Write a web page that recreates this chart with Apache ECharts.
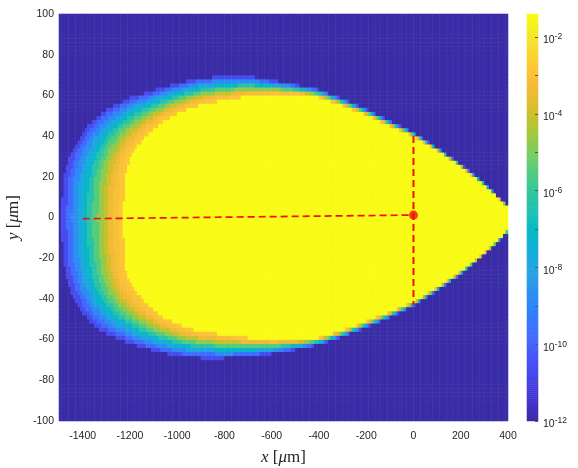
<!DOCTYPE html>
<html><head><meta charset="utf-8">
<script src="https://cdn.jsdelivr.net/npm/echarts@6/dist/echarts.min.js"></script>
<style>html,body{margin:0;padding:0;background:#fff}#c{width:578px;height:468px}</style>
</head><body><div id="c"></div>
<script>
// ---- shape of the field (x, y in µm) ----
// outer edge of the non-zero region
const outerX   = [-1490, -1480, -1450, -1400, -1350, -1300, -1250, -1200, -1100, -1000, -900, -800, -700, -600, -500, -400, -300, -200, -100, 0, 100, 200, 300, 350, 400];
const outerTop = [0, 20, 31, 42, 48.5, 53, 56, 59, 62.5, 66, 68.5, 69.5, 69.5, 67.5, 65.5, 63, 58.5, 53.5, 47.5, 42, 34.5, 26.5, 17, 11.5, 6];
const outerBot = [0, -22, -36, -47, -53, -57, -59.5, -62, -65.5, -68, -69, -69, -68.5, -67, -65, -62.5, -58.5, -54, -49, -43.5, -36, -28, -18.5, -13, -7];
// edge of the saturated (yellow) core
const coreX   = [-1225, -1215, -1200, -1170, -1115, -1050, -975, -900, -834, -700, -600, -500, -400, -300, -200, -100, 0, 100, 200, 300, 350, 400];
const coreTop = [8, 22, 28, 35, 42, 48, 52.5, 55.5, 57, 59.5, 60.5, 60.5, 59, 55, 50.5, 45, 40, 33, 25, 16, 10.5, 5];
const coreBot = [-9, -25, -31, -37, -44, -49.5, -53.5, -56, -57, -59, -60, -60, -59, -55.5, -51, -46.5, -41.5, -34.5, -26.5, -17.5, -12, -6];
// log10 of the value in the fringe bands, from the core outward
const fringeLevels = [-2.9, -3.1, -3.4, -4.0, -4.7, -5.5, -6.3, -7.1, -7.9, -8.8, -9.7, -10.7];
const coreLevel = -1.4;
const backgroundLevel = -12;

// ---- markers ----
const pathX = [-1400, 0];
const pathY = [-0.6, 1.2];
const cutX = [0, 0];
const cutY = [40, -43];
const probeX = [0];
const probeY = [1.2];

// ---- axes ----
const xTicks = [-1400, -1200, -1000, -800, -600, -400, -200, 0, 200, 400];
const cbTicks = [-12, -10, -8, -6, -4, -2];
const cbMinorTicks = [-12, -11, -10, -9, -8, -7, -6, -5, -4, -3, -2];

const parula = ['#392CA6','#4332CB','#4741E5','#4852F4','#4563FD','#3875FE','#2E87F7','#2796EB','#20A5E3','#12B1D6','#02BAC3','#24C1AE','#37C897','#57CC7A','#80CC59','#ABC739','#D1BF27','#EFBA36','#FEC338','#F9D62D','#F5E924','#F9FB15'];

function interp(xs, ys, x) {
  if (x <= xs[0]) return ys[0];
  for (let i = 1; i < xs.length; i++) {
    if (x <= xs[i]) {
      const t = (x - xs[i-1]) / (xs[i] - xs[i-1]);
      return ys[i-1] + t * (ys[i] - ys[i-1]);
    }
  }
  return ys[ys.length-1];
}
const X0 = -1500;
function table(xs, ys) { const t = []; for (let i = 0; i <= 1900; i++) t.push(interp(xs, ys, X0 + i)); return t; }
const oT = table(outerX, outerTop), oB = table(outerX, outerBot);
const cT = table(coreX, coreTop), cB = table(coreX, coreBot);
function inside(xs, tt, tb, x, y) {
  if (x < xs[0] || x > xs[xs.length-1]) return false;
  const i = Math.round(x - X0);
  return y <= tt[i] && y >= tb[i];
}
const inOuter = (x, y) => inside(outerX, oT, oB, x, y);
const inCore = (x, y) => inside(coreX, cT, cB, x, y);
// bands follow the shells between core and outer edge, seen from a point inside the core
const cx = -800, cy = -1;
function crossing(test, x, y, lo, hi) {
  for (let k = 0; k < 40; k++) {
    const m = (lo + hi) / 2;
    if (test(cx + m * (x - cx), cy + m * (y - cy))) lo = m; else hi = m;
  }
  return (lo + hi) / 2;
}
function cellLevel(x, y) {
  if (!inOuter(x, y)) return backgroundLevel;
  if (inCore(x, y)) return coreLevel;
  const ti = crossing(inCore, x, y, 0, 1);
  const to = crossing(inOuter, x, y, 1, 20);
  let f = (1 - ti) / (to - ti);
  f = Math.min(Math.max(f, 0), 0.9999);
  return fringeLevels[Math.floor(f * fringeLevels.length)];
}

const xCats = [], yCats = [];
for (let x = -1495; x <= 395; x += 10) xCats.push(x);
for (let y = -99; y <= 99; y += 2) yCats.push(y);
const field = [];
xCats.forEach((x, i) => yCats.forEach((y, j) => field.push([i, j, cellLevel(x, y)])));

const cbMin = -12, cbMax = -1.4, cbN = 200;
const cbCats = [], cbData = [];
for (let k = 0; k < cbN; k++) {
  const v = cbMin + (k + 0.5) * (cbMax - cbMin) / cbN;
  cbCats.push(v); cbData.push([0, k, v]);
}

const sans = 'Liberation Sans, Arial, Helvetica, sans-serif';
const serif = 'Liberation Serif, Times New Roman, serif';
const ink = '#262626';

const chart = echarts.init(document.getElementById('c'), null, {renderer: 'canvas'});
chart.setOption({
  animation: false,
  grid: [
    {left: 59, top: 14, width: 449, height: 407, containLabel: false, outerBoundsMode: 'none'},
    {left: 527, top: 14, width: 11, height: 407, containLabel: false, outerBoundsMode: 'none'}
  ],
  xAxis: [
    {type: 'category', gridIndex: 0, data: xCats, show: false, position: 'top'},
    {type: 'value', gridIndex: 0, min: -1500, max: 400, position: 'bottom',
     axisLine: {show: false}, axisTick: {show: false}, splitLine: {show: false},
     axisLabel: {customValues: xTicks, color: ink, fontSize: 10.5, fontFamily: sans, margin: 10,
       formatter: v => String(v)},
     name: '{i|x} [{i|μ}m]', nameLocation: 'middle', nameGap: 28,
     nameTextStyle: {color: ink, fontSize: 17, fontFamily: serif,
       rich: {i: {fontStyle: 'italic', fontSize: 17, fontFamily: serif, color: ink}}}},
    {type: 'category', gridIndex: 1, data: ['c'], show: false}
  ],
  yAxis: [
    {type: 'category', gridIndex: 0, data: yCats, show: false, position: 'right'},
    {type: 'value', gridIndex: 0, min: -100, max: 100, interval: 20, position: 'left',
     axisLine: {show: false}, axisTick: {show: false}, splitLine: {show: false},
     axisLabel: {color: ink, fontSize: 10.5, fontFamily: sans, margin: 5, formatter: v => String(v)},
     name: '{i|y} [{i|μ}m]', nameLocation: 'middle', nameGap: 28,
     nameTextStyle: {color: ink, fontSize: 17, fontFamily: serif,
       rich: {i: {fontStyle: 'italic', fontSize: 17, fontFamily: serif, color: ink}}}},
    {type: 'category', gridIndex: 1, data: cbCats, show: false, position: 'left'},
    {type: 'value', gridIndex: 1, min: cbMin, max: cbMax, position: 'right', z: 10,
     axisLine: {show: false}, splitLine: {show: false},
     axisTick: {show: true, inside: true, length: 3, customValues: cbMinorTicks, lineStyle: {color: '#555', width: 1}},
     axisLabel: {customValues: cbTicks, margin: 5, color: ink, fontFamily: sans, padding: [7, 0, 0, 0],
       formatter: v => '{b|10}{s|' + Math.round(v) + '}',
       rich: {b: {fontSize: 10.5, fontFamily: sans, color: ink},
              s: {fontSize: 8.5, fontFamily: sans, color: ink, padding: [0, 0, 7, 0]}}}}
  ],
  visualMap: {type: 'continuous', min: cbMin, max: cbMax, show: false, dimension: 2,
    seriesIndex: [0, 1], inRange: {color: parula}},
  series: [
    {type: 'heatmap', xAxisIndex: 0, yAxisIndex: 0, data: field, progressive: 0, emphasis: {disabled: true}},
    {type: 'heatmap', xAxisIndex: 2, yAxisIndex: 2, data: cbData, progressive: 0, emphasis: {disabled: true}},
    {type: 'line', xAxisIndex: 1, yAxisIndex: 1, z: 5, symbol: 'none',
     data: pathX.map((x, i) => [x, pathY[i]]),
     lineStyle: {color: '#f01010', width: 1.7, type: [7, 4]}},
    {type: 'line', xAxisIndex: 1, yAxisIndex: 1, z: 5, symbol: 'none',
     data: cutX.map((x, i) => [x, cutY[i]]),
     lineStyle: {color: '#f01010', width: 2, type: [7, 4]}},
    {type: 'scatter', xAxisIndex: 1, yAxisIndex: 1, z: 6, symbol: 'circle', symbolSize: 9,
     data: probeX.map((x, i) => [x, probeY[i]]),
     itemStyle: {color: '#f01010'}}
  ]
});
</script></body></html>
